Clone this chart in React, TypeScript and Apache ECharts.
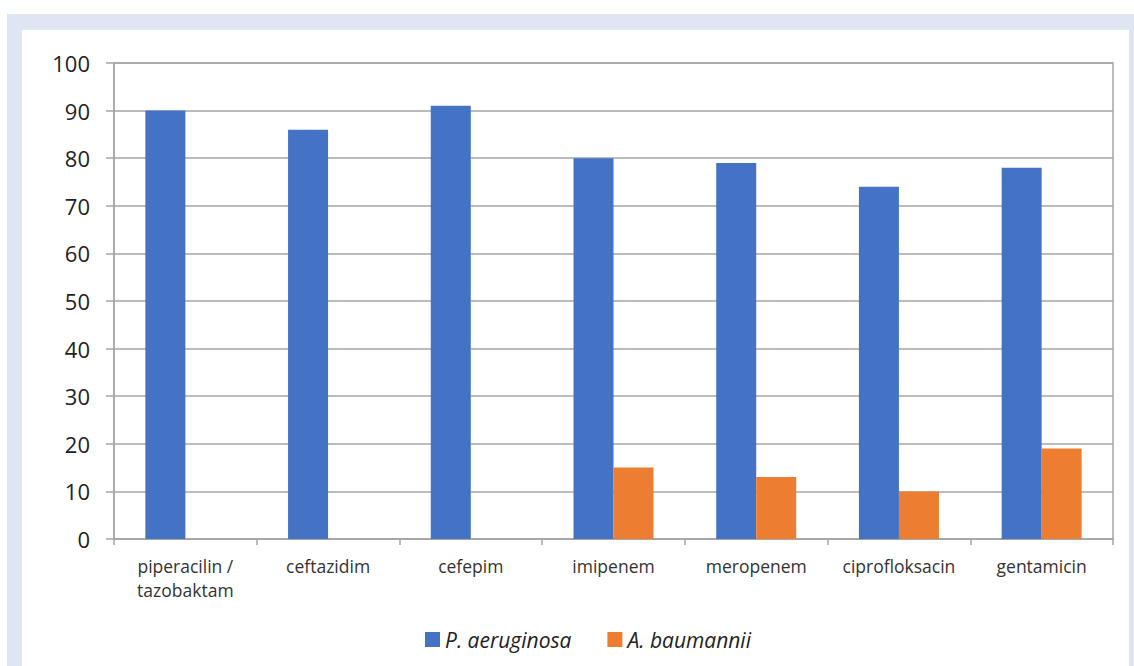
import React, { useEffect, useRef } from "react";
import * as echarts from "echarts";

const categories = [
  "piperacilin /\ntazobaktam",
  "ceftazidim",
  "cefepim",
  "imipenem",
  "meropenem",
  "ciprofloksacin",
  "gentamicin",
];
const pAeruginosa = [90, 86, 91, 80, 79, 74, 78];
const aBaumannii = [null, null, null, 15, 13, 10, 19];
const seriesNames = ["P. aeruginosa", "A. baumannii"];

const FONT = "'Open Sans', 'Noto Sans', sans-serif";

export default function App() {
  const ref = useRef<HTMLDivElement>(null);
  useEffect(() => {
    const chart = echarts.init(ref.current!, null, { renderer: "svg" });
    chart.setOption({
      animation: false,
      backgroundColor: "#ffffff",
      graphic: [
        { type: "rect", z: -10, shape: { x: 7, y: 14, width: 1127, height: 652 }, style: { fill: "#dfe6f3" } },
        { type: "rect", z: -9, shape: { x: 22, y: 30, width: 1107, height: 636 }, style: { fill: "#ffffff" } },
      ],
      grid: {
        left: 114,
        top: 63,
        right: 21,
        bottom: 127,
        show: true,
        borderColor: "#a6a6a6",
        borderWidth: 1.5,
        backgroundColor: "transparent",
        z: 1,
      },
      legend: {
        bottom: 11,
        left: 420,
        itemWidth: 15,
        itemHeight: 15,
        itemGap: 36,
        icon: "rect",
        textStyle: { fontFamily: FONT, fontStyle: "italic", fontSize: 21, color: "#222" },
        data: seriesNames,
      },
      xAxis: {
        type: "category",
        data: categories,
        axisLine: { lineStyle: { color: "#a6a6a6", width: 1.5 } },
        axisTick: { show: true, interval: 0, length: 6, lineStyle: { color: "#a6a6a6", width: 1.5 } },
        axisLabel: { interval: 0, fontFamily: FONT, fontSize: 17.5, color: "#333", margin: 15, lineHeight: 24 },
      },
      yAxis: {
        type: "value",
        min: 0,
        max: 100,
        interval: 10,
        axisLine: { show: true, lineStyle: { color: "#a6a6a6", width: 1.5 } },
        axisTick: { show: true, length: 8, lineStyle: { color: "#a6a6a6", width: 1.5 } },
        splitLine: { lineStyle: { color: "#a6a6a6", width: 1.5 } },
        axisLabel: { fontFamily: FONT, fontSize: 22, color: "#222", margin: 24 },
      },
      series: [
        {
          name: seriesNames[0],
          type: "bar",
          data: pAeruginosa,
          barWidth: 40,
          barGap: "0%",
          itemStyle: { color: "#4472c4" },
        },
        {
          name: seriesNames[1],
          type: "bar",
          data: aBaumannii,
          barWidth: 40,
          barGap: "0%",
          itemStyle: { color: "#ed7d31" },
        },
      ],
    });
    return () => chart.dispose();
  }, []);
  return (
    <div
      ref={ref}
      style={{ position: "fixed", left: 0, top: 0, width: 1134, height: 666 }}
    />
  );
}
